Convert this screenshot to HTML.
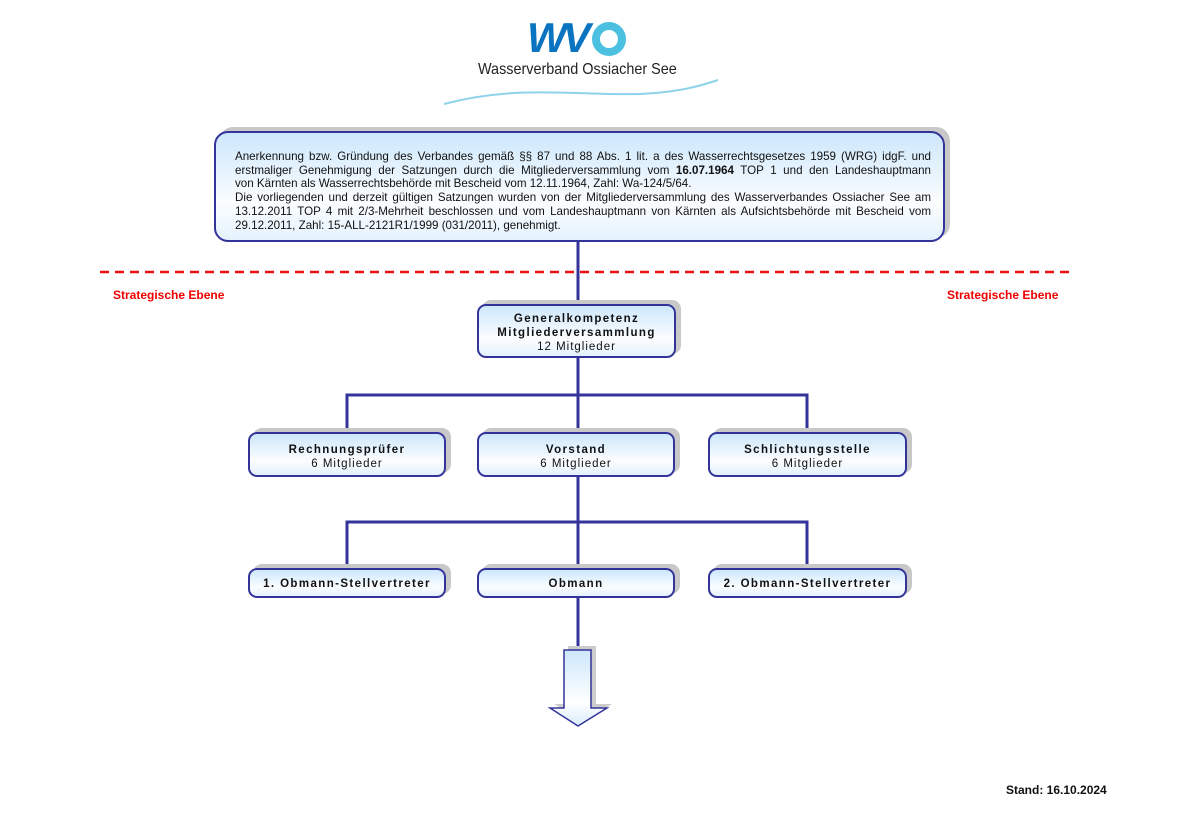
<!DOCTYPE html>
<html><head><meta charset="utf-8"><style>
body{margin:0;width:1187px;height:823px;background:#fff;position:relative;font-family:"Liberation Sans",sans-serif;overflow:hidden}
.b{position:absolute;box-sizing:border-box;border:2px solid #333399;border-radius:9px;background:linear-gradient(#cde7fb,#fbfdff 65%,#e4f2fd);text-align:center;color:#111;font-size:11.5px;letter-spacing:1px;line-height:14px;box-shadow:5px -4px 0 #c8c8c8}
.b b{letter-spacing:1.4px}
.t{position:absolute;font-size:10.5px;color:#111}
.red{position:absolute;color:#e00;font-weight:bold;font-size:12px}
.j{text-align:justify;text-align-last:justify;white-space:nowrap}
.l{text-align:left;white-space:nowrap}
</style></head><body>
<svg width="1187" height="823" style="position:absolute;left:0;top:0">
<text x="527" y="52" font-family="Liberation Sans" font-weight="bold" font-style="italic" font-size="42" fill="#0a74c0" letter-spacing="-4">WV</text>
<circle cx="609" cy="39" r="13" fill="none" stroke="#4cc0e0" stroke-width="8"/>
<path d="M444 104 C520 84 580 96 640 94 C680 92 700 86 718 80" stroke="#8fd3ea" stroke-width="2" fill="none"/>
<line x1="100" y1="272" x2="1072" y2="272" stroke="#ee1111" stroke-width="2.5" stroke-dasharray="9,6"/>
<g stroke="#333399" stroke-width="3" fill="none">
<line x1="578" y1="240" x2="578" y2="650"/>
<polyline points="347,432 347,395 807,395 807,432"/>
<polyline points="347,568 347,522 807,522 807,568"/>
</g>
<polygon points="568,646 596,646 596,704 612,704 583,722 554,704 568,704" fill="#ccc"/>
<defs><linearGradient id="g" x1="0" y1="0" x2="0" y2="1"><stop offset="0" stop-color="#cde7fb"/><stop offset="0.7" stop-color="#fff"/><stop offset="1" stop-color="#d8ecfc"/></linearGradient></defs>
<polygon points="564,650 591,650 591,708 607,708 578,726 550,708 564,708" fill="url(#g)" stroke="#333399" stroke-width="1.5"/>
</svg>
<div class="t" style="left:478px;top:61px;font-size:16px;color:#222;transform:scaleX(0.9);transform-origin:left;white-space:nowrap">Wasserverband Ossiacher See</div>
<div class="b" style="left:214px;top:131px;width:731px;height:111px;border-radius:14px;letter-spacing:0;font-size:11.6px;line-height:13.7px;padding:17px 12px 0 19px;color:#111">
<div class="j">Anerkennung bzw. Gründung des Verbandes gemäß §§ 87 und 88 Abs. 1 lit. a des Wasserrechtsgesetzes 1959 (WRG) idgF. und</div>
<div class="j">erstmaliger Genehmigung der Satzungen durch die Mitgliederversammlung vom <b style="letter-spacing:0">16.07.1964</b> TOP 1 und den Landeshauptmann</div>
<div class="l">von Kärnten als Wasserrechtsbehörde mit Bescheid vom 12.11.1964, Zahl: Wa-124/5/64.</div>
<div class="j">Die vorliegenden und derzeit gültigen Satzungen wurden von der Mitgliederversammlung des Wasserverbandes Ossiacher See am</div>
<div class="j">13.12.2011 TOP 4 mit 2/3-Mehrheit beschlossen und vom Landeshauptmann von Kärnten als Aufsichtsbehörde mit Bescheid vom</div>
<div class="l">29.12.2011, Zahl: 15-ALL-2121R1/1999 (031/2011), genehmigt.</div>
</div>
<div class="red" style="left:113px;top:288px">Strategische Ebene</div>
<div class="red" style="left:947px;top:288px">Strategische Ebene</div>
<div class="b" style="left:477px;top:304px;width:199px;height:54px;padding-top:6px"><b>Generalkompetenz<br>Mitgliederversammlung</b><br>12 Mitglieder</div>
<div class="b" style="left:248px;top:432px;width:198px;height:45px;padding-top:9px"><b>Rechnungsprüfer</b><br>6 Mitglieder</div>
<div class="b" style="left:477px;top:432px;width:198px;height:45px;padding-top:9px"><b>Vorstand</b><br>6 Mitglieder</div>
<div class="b" style="left:708px;top:432px;width:199px;height:45px;padding-top:9px"><b>Schlichtungsstelle</b><br>6 Mitglieder</div>
<div class="b" style="left:248px;top:568px;width:198px;height:30px;padding-top:7px"><b>1. Obmann-Stellvertreter</b></div>
<div class="b" style="left:477px;top:568px;width:198px;height:30px;padding-top:7px"><b>Obmann</b></div>
<div class="b" style="left:708px;top:568px;width:199px;height:30px;padding-top:7px"><b>2. Obmann-Stellvertreter</b></div>
<div class="t" style="left:1006px;top:783px;font-weight:bold;font-size:12px">Stand: 16.10.2024</div>
</body></html>
